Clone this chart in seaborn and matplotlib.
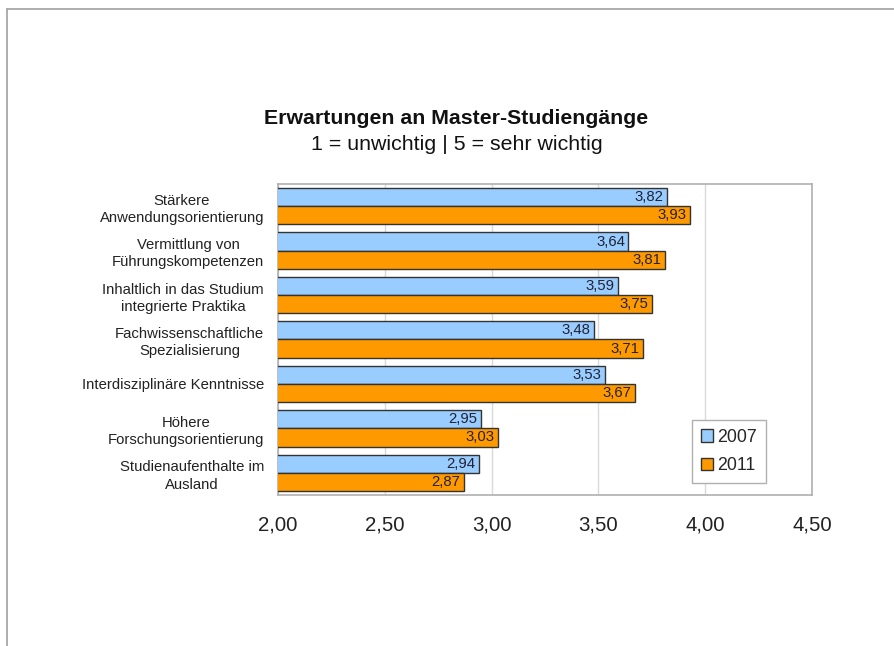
import matplotlib
matplotlib.use("Agg")
import matplotlib.pyplot as plt
import seaborn as sns
import pandas as pd
from matplotlib.lines import Line2D

categories = [
    "Stärkere\nAnwendungsorientierung",
    "Vermittlung von\nFührungskompetenzen",
    "Inhaltlich in das Studium\nintegrierte Praktika",
    "Fachwissenschaftliche\nSpezialisierung",
    "Interdisziplinäre Kenntnisse",
    "Höhere\nForschungsorientierung",
    "Studienaufenthalte im\nAusland",
]
values_2007 = [3.82, 3.64, 3.59, 3.48, 3.53, 2.95, 2.94]
values_2011 = [3.93, 3.81, 3.75, 3.71, 3.67, 3.03, 2.87]
years = ["2007", "2011"]
xticks = [2.0, 2.5, 3.0, 3.5, 4.0, 4.5]
xtick_labels = ["2,00", "2,50", "3,00", "3,50", "4,00", "4,50"]

df = pd.DataFrame({
    "Kategorie": categories * 2,
    "Wert": values_2007 + values_2011,
    "Jahr": [years[0]] * len(categories) + [years[1]] * len(categories),
})

sns.set_theme(style="white")
plt.rcParams["font.family"] = ["Liberation Sans", "DejaVu Sans"]

fig = plt.figure(figsize=(8.94, 6.46), dpi=100)
ax = fig.add_axes([278 / 894, 1 - 495 / 646, (812 - 278) / 894, (495 - 184) / 646])

palette = {"2007": "#99ccff", "2011": "#ff9900"}
sns.barplot(data=df, y="Kategorie", x="Wert", hue="Jahr", orient="h",
            palette=palette, edgecolor="#333333", linewidth=1.0,
            saturation=1, width=0.82, ax=ax, zorder=3)

ax.set_xlim(2.0, 4.5)
ax.set_xticks(xticks)
ax.set_xticklabels(xtick_labels, fontsize=14.7, color="#222222")
ax.xaxis.grid(True, color="#d9d9d9", linewidth=1, zorder=0)
ax.set_axisbelow(True)
ax.tick_params(axis="x", length=0, pad=15)
ax.tick_params(axis="y", length=0, pad=10)
for t in ax.get_yticklabels():
    t.set_multialignment("center")
    t.set_fontsize(10.7)
    t.set_linespacing(1.3)
    t.set_color("#222222")
ax.set_xlabel("")
ax.set_ylabel("")
for s in ax.spines.values():
    s.set_visible(True)
    s.set_color("#b0b0b0")
    s.set_linewidth(1.2)

# value labels inside bar ends
for cont in ax.containers:
    for p in cont:
        w = p.get_width()
        ax.annotate(f"{w:.2f}".replace(".", ","),
                    xy=(w, p.get_y() + p.get_height() / 2),
                    xytext=(-2.5, 0), textcoords="offset points",
                    ha="right", va="center", fontsize=10.7, color="#222233", zorder=5)

# legend
handles = [plt.Rectangle((0, 0), 1, 1, facecolor=palette[y], edgecolor="#333333", linewidth=1.0) for y in years]
leg = ax.legend(handles, years, loc="upper left",
                bbox_to_anchor=(692 / 894, 1 - 420 / 646), bbox_transform=fig.transFigure,
                borderaxespad=0, fontsize=12.8, handlelength=0.7, handleheight=0.7,
                handletextpad=0.2, labelspacing=0.65, borderpad=0.5,
                fancybox=False, framealpha=1, edgecolor="#b0b0b0")
leg.get_frame().set_linewidth(1.0)

# titles
fig.text(456 / 894, 1 - 118 / 646, "Erwartungen an Master-Studiengänge",
         ha="center", va="center", fontsize=15.3, fontweight="bold", color="#111111")
fig.text(457 / 894, 1 - 144 / 646, "1 = unwichtig | 5 = sehr wichtig",
         ha="center", va="center", fontsize=15.4, color="#111111")

# page border lines
fig.add_artist(Line2D([7 / 894, 1.0], [1 - 9 / 646, 1 - 9 / 646], transform=fig.transFigure,
                      color="#a0a0a0", linewidth=1.2))
fig.add_artist(Line2D([7 / 894, 7 / 894], [0.0, 1 - 9 / 646], transform=fig.transFigure,
                      color="#a0a0a0", linewidth=1.2))

fig.savefig("out.png", dpi=100)
